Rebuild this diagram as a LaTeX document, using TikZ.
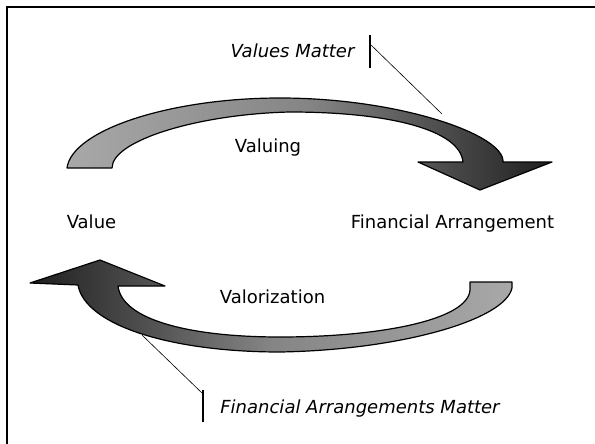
\documentclass[tikz,border=0pt]{standalone}
\usepackage{fontspec}
\setmainfont{DejaVu Sans}
\definecolor{lightband}{gray}{0.66}
\definecolor{midband}{gray}{0.52}
\definecolor{darkband}{gray}{0.12}
\begin{document}
\begin{tikzpicture}[x=1pt,y=-1pt,
  lbl/.style={font=\fontsize{18}{20}\selectfont, inner sep=0pt, anchor=base},
  ilbl/.style={font=\fontsize{18}{20}\selectfont\itshape, inner sep=0pt, anchor=base},
  band/.style={draw=black, line width=1.2pt, line join=round},
  frameline/.style={line width=1.6pt},
  barline/.style={line width=1.5pt},
  leader/.style={line width=0.6pt}]
\useasboundingbox (0,0) rectangle (595,444);
% frame (top and left edges)
\coordinate (fTL) at (7,7);
\coordinate (fTR) at (595,7);
\coordinate (fBL) at (7,444);
\draw[frameline] (fTR) -- (fTL) -- (fBL);

% upper arrow: Value -> Financial Arrangement
\shadedraw[band, left color=lightband, right color=darkband, middle color=midband]
  (67,168) .. controls (72,130) and (170,98) .. (280,98)
  .. controls (400,98) and (505,135) .. (503,162)
  -- (552,162) -- (480,190) -- (418,162) -- (463,162)
  .. controls (460,130) and (390,112) .. (290,112)
  .. controls (200,114) and (112,140) .. (112,168) -- cycle;

% lower arrow: Financial Arrangement -> Value
\shadedraw[band, left color=darkband, right color=lightband, middle color=midband]
  (470,282) -- (512,282) -- (512,288)
  .. controls (505,320) and (400,350) .. (280,352)
  .. controls (170,352) and (85,325) .. (78,285)
  -- (30,283) -- (100,260) -- (165,286) -- (118,286)
  .. controls (122,320) and (190,337) .. (280,337)
  .. controls (380,337) and (468,320) .. (470,290) -- cycle;

% labels
\node[lbl] (value) at (91.5,228) {Value};
\node[lbl] (fa) at (452.5,228) {Financial Arrangement};
\node[lbl] (valuing) at (268,153) {Valuing};
\node[lbl] (valorization) at (272.5,303) {Valorization};
\node[ilbl] (vm) at (292.5,58) {Values Matter};
\node[ilbl] (fam) at (360,413) {Financial Arrangements Matter};

% callout bars and leaders
\coordinate (vmBarTop) at (370,35);
\coordinate (vmBarBot) at (370,68);
\coordinate (vmStart) at (371,45);
\coordinate (vmEnd) at (442,114);
\draw[barline] (vmBarTop) -- (vmBarBot);
\draw[leader] (vmStart) -- (vmEnd);

\coordinate (famBarTop) at (203,390);
\coordinate (famBarBot) at (203,422);
\coordinate (famStart) at (202,393);
\coordinate (famEnd) at (142,335);
\draw[barline] (famBarTop) -- (famBarBot);
\draw[leader] (famStart) -- (famEnd);
\end{tikzpicture}
\end{document}
